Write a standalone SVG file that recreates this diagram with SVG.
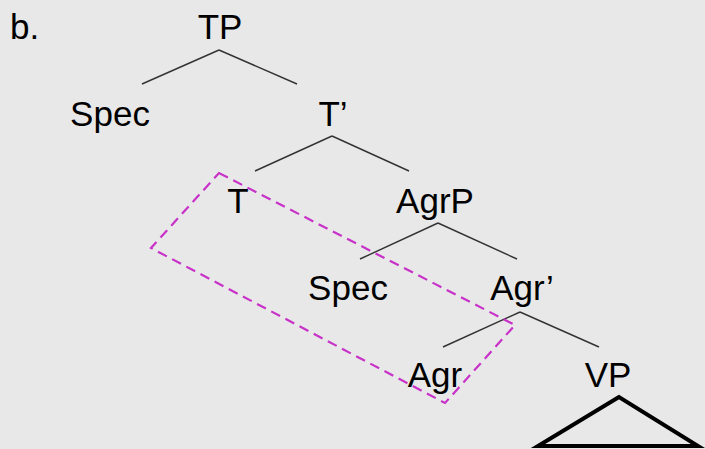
<svg xmlns="http://www.w3.org/2000/svg" width="705" height="449" viewBox="0 0 705 449">
<style>
.t{font-family:"Liberation Sans",Arial,sans-serif;font-size:35px;fill:#000;text-anchor:middle}
.e{stroke:#333;stroke-width:1.4;fill:none}
</style>
<rect width="705" height="449" fill="#e8e8e8"/>
<text class="t" x="10" y="39" style="text-anchor:start">b.</text>
<g id="connectors">
<line class="e" x1="219" y1="50" x2="142" y2="84"/>
<line class="e" x1="219" y1="50" x2="297" y2="84"/>
<line class="e" x1="332" y1="136" x2="255" y2="171"/>
<line class="e" x1="332" y1="136" x2="409" y2="171"/>
<line class="e" x1="438" y1="223" x2="360" y2="259"/>
<line class="e" x1="438" y1="223" x2="517" y2="259"/>
<line class="e" x1="520" y1="312" x2="443" y2="347"/>
<line class="e" x1="520" y1="312" x2="599" y2="347"/>
</g>
<g id="TP"><text class="t" x="220" y="39">TP</text></g>
<g id="Spec1"><text class="t" x="110" y="126">Spec</text></g>
<g id="Tbar"><text class="t" x="333" y="126">T’</text></g>
<g id="T"><text class="t" x="238" y="213">T</text></g>
<g id="AgrP"><text class="t" x="435" y="213">AgrP</text></g>
<g id="Spec2"><text class="t" x="348" y="300">Spec</text></g>
<g id="Agrbar"><text class="t" x="522" y="300">Agr’</text></g>
<g id="Agr"><text class="t" x="435" y="387">Agr</text></g>
<g id="VP"><text class="t" x="608" y="387">VP</text>
<polygon points="619,397 538,446 698,446" fill="none" stroke="#000" stroke-width="4" stroke-linejoin="miter"/></g>
<g id="box"><polygon points="219,173 515,325 445,403 151,248" fill="none" stroke="#c832c8" stroke-width="2.2" stroke-dasharray="10,6"/></g>
</svg>
